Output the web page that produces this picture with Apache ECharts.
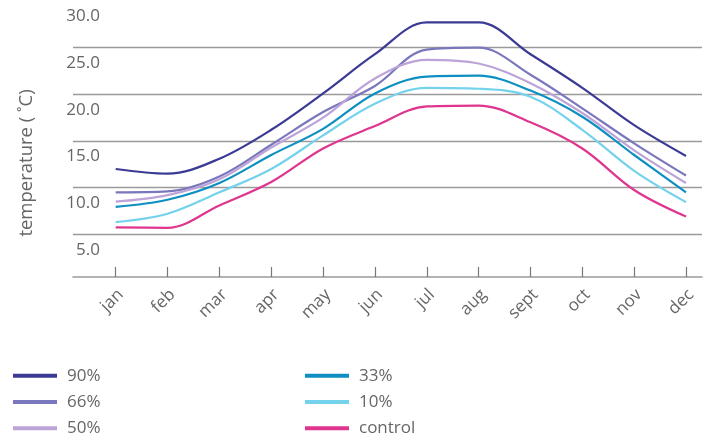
<!DOCTYPE html>
<html>
<head>
<meta charset="utf-8">
<script src="https://cdn.jsdelivr.net/npm/echarts@6/dist/echarts.min.js"></script>
<style>html,body{margin:0;padding:0;background:#fff;}#c{width:708px;height:439px;}</style>
</head>
<body>
<div id="c"></div>
<script>
const months = ['jan','feb','mar','apr','may','jun','jul','aug','sept','oct','nov','dec'];
const yTicks = [0, 5, 10, 15, 20, 25, 30];
const p90 = [12.0, 11.5, 13.1, 16.2, 20.1, 24.3, 27.7, 27.7, 24.3, 20.7, 16.7, 13.4];
const p66 = [9.5, 9.6, 11.2, 14.6, 18.1, 20.9, 24.8, 25.0, 22.1, 18.5, 14.75, 11.3];
const p50 = [8.5, 9.2, 10.9, 14.3, 17.5, 21.7, 23.7, 23.3, 21.2, 18.0, 14.0, 10.5];
const p33 = [7.95, 8.7, 10.5, 13.5, 16.3, 20.1, 21.9, 22.0, 20.4, 17.6, 13.5, 9.5];
const p10 = [6.3, 7.2, 9.5, 12.0, 15.6, 19.0, 20.7, 20.6, 19.75, 16.2, 11.8, 8.45];
const control = [5.75, 5.7, 8.1, 10.6, 14.2, 16.6, 18.7, 18.8, 17.0, 14.2, 9.75, 6.9];

const seriesDefs = [
  ['90%', p90, '#3b3a94'],
  ['66%', p66, '#7a77bd'],
  ['50%', p50, '#bca3d8'],
  ['33%', p33, '#0d8fc1'],
  ['10%', p10, '#74d2ec'],
  ['control', control, '#e0358f']
];
const FONT = 'Open Sans';
const grey = '#666';
const lineGrey = '#9a9a9a';

const chart = echarts.init(document.getElementById('c'), null, {renderer: 'canvas'});
const yMin = yTicks[0], yMax = yTicks[yTicks.length - 1];
const splitColors = yTicks.map(v => (v === yMin || v === yMax) ? 'rgba(0,0,0,0)' : lineGrey);

const legendCommon = {
  orient: 'vertical', top: 366, padding: 0, height: 100,
  icon: 'rect', itemWidth: 44, itemHeight: 4, itemGap: 6.8,
  textStyle: {color: grey, fontSize: 17, fontFamily: FONT, lineHeight: 19.5, padding: [0, 0, 0, 5]}
};

chart.setOption({
  animation: false,
  backgroundColor: '#fff',
  textStyle: {fontFamily: FONT},
  grid: [
    {left: 73, right: 6, top: 1, height: 280},
    {left: 115.7, right: 22, top: 1, height: 280},
    {left: 120.7, right: 17, top: 1, height: 280}
  ],
  xAxis: [
    {gridIndex: 0, type: 'value', min: 0, max: 1, offset: -4,
     axisLine: {show: true, lineStyle: {color: lineGrey, width: 1.5}},
     axisTick: {show: false}, axisLabel: {show: false}, splitLine: {show: false}},
    {gridIndex: 1, type: 'category', data: months, boundaryGap: false, offset: -4,
     axisLine: {show: false},
     axisTick: {show: true, inside: true, length: 10, lineStyle: {color: '#777', width: 1.2}},
     axisLabel: {show: false}, splitLine: {show: false}},
    {gridIndex: 2, type: 'category', data: months, boundaryGap: false, offset: -4,
     axisLine: {show: false}, axisTick: {show: false},
     axisLabel: {rotate: 45, margin: 15, color: grey, fontSize: 17, fontFamily: FONT, interval: 0},
     splitLine: {show: false}}
  ],
  yAxis: [
    {gridIndex: 0, type: 'value', min: yMin, max: yMax, interval: 5,
     axisLine: {show: false}, axisTick: {show: false},
     axisLabel: {inside: true, align: 'right', margin: 27, verticalAlign: 'top', padding: [7, 0, 0, 0],
       color: grey, fontSize: 17, fontFamily: FONT,
       formatter: v => v === yMin ? '' : v.toFixed(1)},
     splitLine: {show: true, lineStyle: {color: splitColors, width: 1.4}}},
    {gridIndex: 1, type: 'value', min: yMin, max: yMax, show: false, splitLine: {show: false}},
    {gridIndex: 2, type: 'value', min: yMin, max: yMax, show: false, splitLine: {show: false}}
  ],
  legend: [
    Object.assign({data: ['90%', '66%', '50%'], left: 13}, legendCommon),
    Object.assign({data: ['33%', '10%', 'control'], left: 305}, legendCommon)
  ],
  graphic: [
    {type: 'text', x: 27, y: 163, rotation: Math.PI / 2,
     style: {text: 'temperature ( ˚C)', fill: grey, font: '18.5px "Open Sans"', align: 'center', verticalAlign: 'middle'}}
  ],
  series: seriesDefs.map(([name, data, color]) => ({
    name, type: 'line', xAxisIndex: 1, yAxisIndex: 1, data,
    smooth: 0.35, showSymbol: false, symbol: 'none',
    lineStyle: {color, width: 2.2}, itemStyle: {color}
  }))
});
</script>
</body>
</html>
